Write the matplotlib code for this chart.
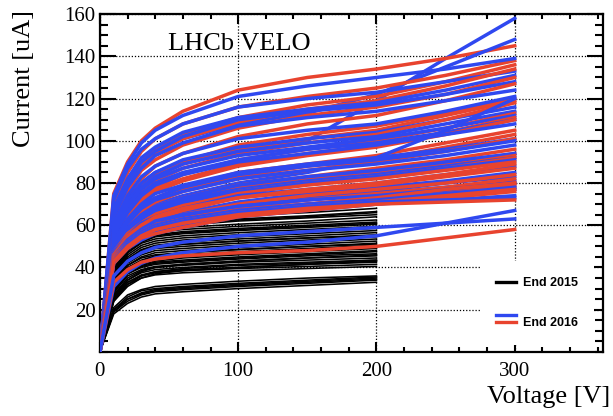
import numpy as np
import matplotlib
matplotlib.use("Agg")
import matplotlib.pyplot as plt
from matplotlib.lines import Line2D
from matplotlib.legend_handler import HandlerBase
from matplotlib.ticker import MultipleLocator

# voltage steps of the scans
volt2015 = [0, 10, 20, 30, 40, 60, 100, 150, 200]
volt2016 = [0, 10, 20, 30, 40, 60, 100, 150, 200, 250, 300]

# End 2015 scans (current in uA at volt2015)
iv2015 = [
    [0, 18, 23, 26, 27.5, 28.5, 30, 31.5, 33],
    [0, 19, 24, 27, 28.5, 29.5, 31, 32.5, 34],
    [0, 20, 25, 27.5, 29, 30, 31.5, 33, 34.5],
    [0, 20, 26, 29, 30, 31, 32.5, 34, 35.5],
    [0, 21, 27, 29.5, 31, 32, 33.5, 35, 36],
    [0, 19, 25, 28, 29.5, 30.5, 32, 33.5, 35],
    [0, 24, 32, 35, 36.5, 37.5, 38.5, 39.5, 40.5],
    [0, 25, 33, 36, 37.5, 38.5, 39.5, 40.5, 41.5],
    [0, 26, 33, 36.5, 38, 39, 40, 41.5, 42.5],
    [0, 24, 31, 35, 37, 38.5, 40, 41.5, 43],
    [0, 25, 32, 36, 38, 39.5, 41, 42, 43.5],
    [0, 27, 34, 37.5, 39, 40, 41.5, 42.5, 43.5],
    [0, 27, 35, 38.5, 40, 41, 42.5, 43.5, 44.5],
    [0, 28, 36, 39, 40.5, 41.5, 43, 44.5, 45.5],
    [0, 26, 34, 38, 40, 41.5, 43, 44.5, 46],
    [0, 29, 37, 40, 41.5, 42.5, 44, 45.5, 46.5],
    [0, 28, 37, 40.5, 42, 43, 44.5, 46, 47.5],
    [0, 30, 38, 41, 42.5, 43.5, 45, 46.5, 48],
    [0, 29, 38, 41.5, 43, 44.5, 46, 47.5, 49],
    [0, 31, 39, 42.5, 44, 45, 46.5, 48, 49.5],
    [0, 30, 39, 43, 45, 46, 47.5, 49, 50.5],
    [0, 30, 40, 43.5, 45.5, 47, 48.5, 50, 51],
    [0, 32, 41, 44.5, 46, 47, 48.5, 50, 51.5],
    [0, 31, 41, 45, 47, 48, 49.5, 51, 52.5],
    [0, 33, 42, 46, 48, 49, 50.5, 52, 53.5],
    [0, 32, 43, 47, 49, 50, 51.5, 53, 54.5],
    [0, 33, 43, 47.5, 49.5, 51, 52.5, 54, 55],
    [0, 34, 44, 48, 50, 51, 52.5, 54, 55.5],
    [0, 33, 44, 48.5, 50.5, 52, 53.5, 55, 56.5],
    [0, 35, 45, 49.5, 51.5, 53, 54.5, 56, 57.5],
    [0, 34, 46, 50.5, 52.5, 54, 55.5, 57, 58.5],
    [0, 36, 47, 51.5, 53.5, 55, 56.5, 58, 59.5],
    [0, 35, 47, 52, 54.5, 56, 57.5, 59, 60.5],
    [0, 36, 48, 52.5, 55, 56.5, 58, 59.5, 61],
    [0, 37, 48, 53, 55.5, 57, 58.5, 60, 61.5],
    [0, 36, 49, 54, 56.5, 58, 59.5, 61, 62.5],
    [0, 38, 50, 55, 57.5, 59, 60.5, 62, 64],
    [0, 37, 51, 56, 58.5, 60, 62, 63.5, 65],
    [0, 38, 51, 56.5, 59, 61, 62.5, 64, 66],
    [0, 39, 52, 57, 59.5, 61.5, 63, 64.5, 66.5],
    [0, 40, 53, 58, 61, 62.5, 64.5, 66, 68],
]

# End 2016 scans, two colours (current in uA at volt2016)
iv2016_red = [
    [0, 75, 90, 100, 106, 114, 124, 130, 134, 139, 145],
    [0, 70, 85, 95, 101, 108, 116, 121, 125, 131, 138],
    [0, 65, 80, 90, 96, 103, 111, 117, 121, 128, 136],
    [0, 63, 78, 88, 94, 101, 109, 115, 119, 126, 134],
    [0, 62, 76, 86, 91, 98, 106, 112, 116, 122, 130],
    [0, 60, 73, 82, 88, 94, 102, 108, 112, 119, 127],
    [0, 58, 71, 79, 84, 90, 98, 103, 107, 113, 120],
    [0, 57, 70, 78, 83, 89, 96, 101, 105, 112, 119],
    [0, 56, 68, 76, 81, 87, 94, 99, 103, 110, 118],
    [0, 55, 66, 73, 78, 84, 91, 96, 100, 106, 113],
    [0, 54, 65, 72, 77, 82, 89, 94, 98, 104, 111],
    [0, 53, 64, 71, 76, 81, 88, 93, 97, 103, 110],
    [0, 52, 62, 69, 73, 78, 85, 89, 93, 99, 105],
    [0, 51, 61, 68, 72, 77, 83, 88, 91, 97, 103],
    [0, 50, 60, 67, 71, 76, 82, 86, 90, 95, 101],
    [0, 49, 58, 65, 69, 73, 79, 83, 87, 91, 96],
    [0, 48, 58, 64, 68, 72, 78, 82, 85, 89, 94],
    [0, 48, 57, 63, 67, 71, 77, 81, 84, 88, 93],
    [0, 47, 56, 62, 66, 70, 76, 80, 83, 87, 92],
    [0, 47, 56, 61, 65, 69, 75, 79, 82, 86, 90],
    [0, 46, 55, 60, 64, 68, 73, 77, 80, 84, 89],
    [0, 46, 54, 60, 63, 67, 73, 76, 79, 83, 87],
    [0, 45, 53, 58, 61, 65, 70, 74, 77, 80, 84],
    [0, 44, 52, 57, 60, 63, 68, 72, 75, 78, 82],
    [0, 45, 52, 57, 60, 63, 67, 70, 72, 76, 80],
    [0, 44, 51, 56, 59, 62, 67, 70, 73, 77, 80],
    [0, 43, 50, 55, 58, 61, 66, 69, 72, 75, 79],
    [0, 42, 49, 54, 56, 59, 64, 67, 70, 73, 76],
    [0, 44, 51, 56, 59, 62, 66, 69, 71, 74, 77],
    [0, 43, 50, 55, 58, 61, 65, 68, 70, 71, 72],
    [0, 33, 39, 42.5, 44, 45.5, 47, 48, 50, 54, 58],
]
iv2016_blue = [
    [0, 60, 72, 80, 85, 90, 95, 100, 119, 139, 158],
    [0, 68, 82, 90, 95, 101, 108, 113, 122, 135, 148],
    [0, 74, 89, 99, 105, 112, 121, 126, 130, 134, 139],
    [0, 72, 87, 96, 101, 108, 116, 120, 123, 128, 133],
    [0, 68, 82, 92, 97, 104, 111, 115, 118, 124, 131],
    [0, 66, 80, 90, 95, 102, 110, 114, 117, 122, 128],
    [0, 64, 78, 87, 93, 99, 107, 111, 114, 119, 124],
    [0, 61, 74, 83, 88, 94, 101, 105, 108, 114, 121],
    [0, 59, 72, 80, 85, 91, 97, 101, 104, 110, 116],
    [0, 58, 70, 78, 83, 89, 95, 99, 102, 108, 114],
    [0, 57, 69, 77, 82, 87, 93, 97, 101, 106, 112],
    [0, 56, 67, 75, 80, 85, 91, 96, 99, 104, 110],
    [0, 55, 66, 74, 79, 84, 90, 94, 98, 103, 108],
    [0, 50, 60, 66, 70, 74, 80, 85, 92, 105, 120],
    [0, 53, 63, 70, 75, 79, 85, 89, 92, 96, 101],
    [0, 52, 62, 69, 73, 78, 84, 88, 91, 95, 100],
    [0, 51, 61, 68, 72, 76, 82, 86, 89, 93, 98],
    [0, 50, 59, 65, 69, 73, 79, 83, 86, 90, 94],
    [0, 49, 58, 64, 68, 72, 77, 81, 84, 88, 92],
    [0, 48, 57, 63, 67, 71, 76, 80, 83, 87, 91],
    [0, 47, 55, 61, 64, 68, 74, 77, 80, 84, 88],
    [0, 46, 54, 59, 62, 66, 71, 75, 78, 81, 85],
    [0, 45, 53, 58, 61, 65, 70, 73, 76, 80, 83],
    [0, 44, 52, 57, 60, 64, 69, 72, 75, 78, 81],
    [0, 45, 53, 58, 62, 65, 69, 72, 74, 77, 80],
    [0, 43, 51, 55, 58, 62, 67, 70, 73, 76, 78],
    [0, 43, 50, 54, 57, 60, 65, 68, 71, 74, 77],
    [0, 42, 49, 53, 56, 59, 64, 67, 70, 72, 74],
    [0, 44, 52, 57, 60, 63, 67, 70, 72, 75, 78],
    [0, 43, 51, 56, 59, 62, 66, 69, 71, 72, 73],
    [0, 31, 38, 42, 44.5, 47, 50, 52, 55, 61, 67],
    [0, 36, 43, 47, 49.5, 52, 55, 57, 59, 61, 63],
]

BLUE = '#2f48f0'
RED = '#e8432e'
serif = 'Liberation Serif'


class HandlerStacked(HandlerBase):
    # two short lines on top of each other for one legend entry
    def create_artists(self, legend, orig_handle, xdescent, ydescent,
                       width, height, fontsize, trans):
        out = []
        for h, dy in zip(orig_handle, (0.75 * height, 0.0)):
            y = height / 2 - ydescent + dy
            ln = Line2D([-xdescent, width - xdescent], [y, y],
                        color=h.get_color(), lw=h.get_linewidth())
            ln.set_transform(trans)
            out.append(ln)
        return out


fig = plt.figure(figsize=(6.13, 4.16), dpi=100)
ax = fig.add_axes([0.163, 0.154, 0.821, 0.812])

for cur in iv2015:
    ax.plot(volt2015, cur, color='black', lw=1.15, zorder=2)
for cr, cb in zip(iv2016_red, iv2016_blue):
    ax.plot(volt2016, cb, color=BLUE, lw=2.5, zorder=3)
    ax.plot(volt2016, cr, color=RED, lw=2.5, zorder=3)
for cb in iv2016_blue[len(iv2016_red):]:
    ax.plot(volt2016, cb, color=BLUE, lw=2.5, zorder=3)

ax.set_xlim(0, 364)
ax.set_ylim(0, 160)
ax.set_xticks([0, 100, 200, 300])
ax.set_yticks(np.arange(20, 161, 20))
ax.xaxis.set_minor_locator(MultipleLocator(20))
ax.yaxis.set_minor_locator(MultipleLocator(5))
ax.tick_params(which='both', direction='in', top=True, right=True, width=1.5,
               labelsize=15)
ax.tick_params(axis='x', which='major', length=7.5, pad=7)
ax.tick_params(axis='x', which='minor', length=3.8)
ax.tick_params(axis='y', which='major', length=11.5, pad=3)
ax.tick_params(axis='y', which='minor', length=5.8)
for lab in ax.get_xticklabels() + ax.get_yticklabels():
    lab.set_fontfamily(serif)
for sp in ax.spines.values():
    sp.set_linewidth(1.6)

ax.set_axisbelow(False)
ax.grid(True, which='major', color='black', lw=0.9, ls=(0, (1, 1.5)), zorder=4)

ax.text(0.135, 0.893, 'LHCb VELO', transform=ax.transAxes, fontsize=19,
        fontfamily=serif, va='baseline', ha='left', zorder=6)
fig.text(0.039, 0.976, 'Current [uA]', rotation=90, fontsize=19,
         fontfamily=serif, ha='center', va='top')
fig.text(0.995, 0.045, 'Voltage [V]', fontsize=19, fontfamily=serif,
         ha='right', va='center')

h15 = Line2D([], [], color='black', lw=2.4)
h16 = (Line2D([], [], color=BLUE, lw=2.4), Line2D([], [], color=RED, lw=2.4))
leg = ax.legend([h15, h16], ['End 2015', 'End 2016'],
                handler_map={tuple: HandlerStacked()},
                loc='lower right', bbox_to_anchor=(0.982, 0.02),
                borderaxespad=0, frameon=True, fancybox=False,
                prop={'family': 'Liberation Sans', 'weight': 'bold', 'size': 9},
                handlelength=1.6, handletextpad=0.55, labelspacing=2.2,
                borderpad=1.3)
leg.get_frame().set_facecolor('white')
leg.get_frame().set_edgecolor('none')
leg.get_frame().set_alpha(1)
leg.set_zorder(5)

fig.savefig('out.png', dpi=100)
